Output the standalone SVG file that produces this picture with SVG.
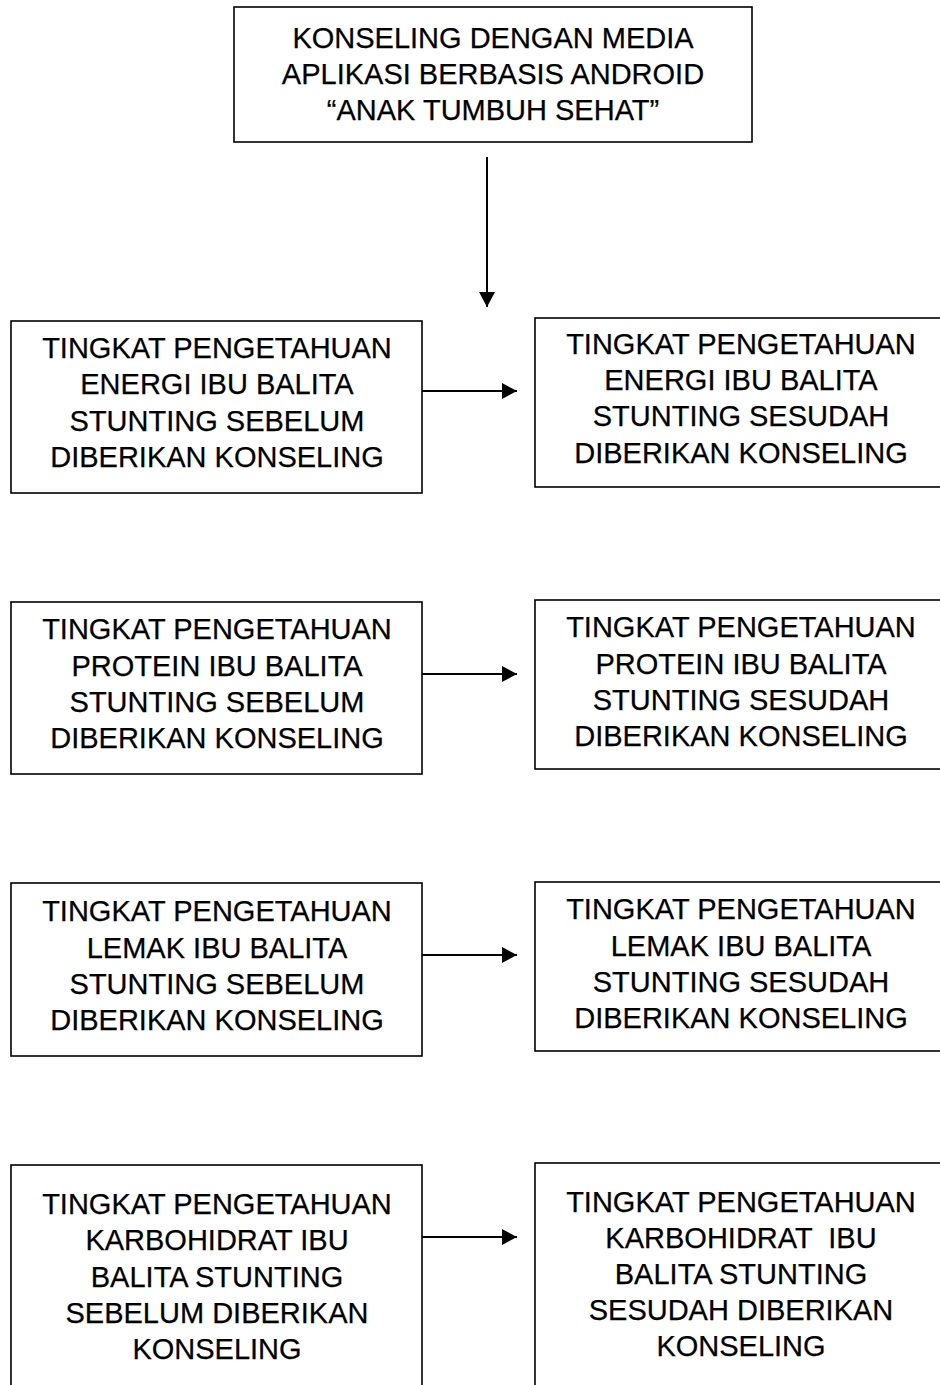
<svg xmlns="http://www.w3.org/2000/svg" width="940" height="1385" viewBox="0 0 940 1385">
<style>
.box{fill:#fff;stroke:#000;stroke-width:1.6}
.t{font-family:"Liberation Sans",Arial,sans-serif;font-size:29px;fill:#000;text-anchor:middle;stroke:#000;stroke-width:0.25}
.c{stroke:#000;stroke-width:2;fill:none}
</style>
<defs>
<marker id="ah" markerUnits="userSpaceOnUse" markerWidth="16" markerHeight="16" refX="15" refY="8" orient="auto">
<path d="M0,0 L15,8 L0,16 z" fill="#000"/>
</marker>
</defs>
<rect width="940" height="1385" fill="#fff"/>
<g id="top">
<rect class="box" x="234" y="7" width="518" height="135"/>
<text class="t"><tspan x="493" y="48">KONSELING DENGAN MEDIA</tspan><tspan x="493" y="84">APLIKASI BERBASIS ANDROID</tspan><tspan x="493" y="119.5">“ANAK TUMBUH SEHAT”</tspan></text>
</g>
<g id="energi-sebelum">
<rect class="box" x="11" y="321" width="411" height="172"/>
<text class="t"><tspan x="217" y="357.5">TINGKAT PENGETAHUAN</tspan><tspan x="217" y="394">ENERGI IBU BALITA</tspan><tspan x="217" y="430.5">STUNTING SEBELUM</tspan><tspan x="217" y="466.5">DIBERIKAN KONSELING</tspan></text>
</g>
<g id="energi-sesudah">
<rect class="box" x="535" y="318" width="412" height="169"/>
<text class="t"><tspan x="741" y="353.5">TINGKAT PENGETAHUAN</tspan><tspan x="741" y="390">ENERGI IBU BALITA</tspan><tspan x="741" y="426">STUNTING SESUDAH</tspan><tspan x="741" y="462.5">DIBERIKAN KONSELING</tspan></text>
</g>
<g id="protein-sebelum">
<rect class="box" x="11" y="602" width="411" height="172"/>
<text class="t"><tspan x="217" y="639">TINGKAT PENGETAHUAN</tspan><tspan x="217" y="675.5">PROTEIN IBU BALITA</tspan><tspan x="217" y="712">STUNTING SEBELUM</tspan><tspan x="217" y="748">DIBERIKAN KONSELING</tspan></text>
</g>
<g id="protein-sesudah">
<rect class="box" x="535" y="600" width="412" height="169"/>
<text class="t"><tspan x="741" y="637">TINGKAT PENGETAHUAN</tspan><tspan x="741" y="673.5">PROTEIN IBU BALITA</tspan><tspan x="741" y="709.5">STUNTING SESUDAH</tspan><tspan x="741" y="746">DIBERIKAN KONSELING</tspan></text>
</g>
<g id="lemak-sebelum">
<rect class="box" x="11" y="883" width="411" height="173"/>
<text class="t"><tspan x="217" y="921">TINGKAT PENGETAHUAN</tspan><tspan x="217" y="957.5">LEMAK IBU BALITA</tspan><tspan x="217" y="994">STUNTING SEBELUM</tspan><tspan x="217" y="1030">DIBERIKAN KONSELING</tspan></text>
</g>
<g id="lemak-sesudah">
<rect class="box" x="535" y="882" width="412" height="169"/>
<text class="t"><tspan x="741" y="919">TINGKAT PENGETAHUAN</tspan><tspan x="741" y="955.5">LEMAK IBU BALITA</tspan><tspan x="741" y="991.5">STUNTING SESUDAH</tspan><tspan x="741" y="1028">DIBERIKAN KONSELING</tspan></text>
</g>
<g id="karbohidrat-sebelum">
<rect class="box" x="11" y="1165" width="411" height="300"/>
<text class="t"><tspan x="217" y="1213.5">TINGKAT PENGETAHUAN</tspan><tspan x="217" y="1250">KARBOHIDRAT IBU</tspan><tspan x="217" y="1286.5">BALITA STUNTING</tspan><tspan x="217" y="1323">SEBELUM DIBERIKAN</tspan><tspan x="217" y="1359">KONSELING</tspan></text>
</g>
<g id="karbohidrat-sesudah">
<rect class="box" x="535" y="1163" width="412" height="300"/>
<text class="t" xml:space="preserve"><tspan x="741" y="1211.5">TINGKAT PENGETAHUAN</tspan><tspan x="741" y="1247.5">KARBOHIDRAT  IBU</tspan><tspan x="741" y="1284">BALITA STUNTING</tspan><tspan x="741" y="1320">SESUDAH DIBERIKAN</tspan><tspan x="741" y="1356">KONSELING</tspan></text>
</g>
<g id="connectors">
<line class="c" x1="487" y1="157" x2="487" y2="307" marker-end="url(#ah)"/>
<line class="c" x1="422" y1="391" x2="517" y2="391" marker-end="url(#ah)"/>
<line class="c" x1="422" y1="674" x2="517" y2="674" marker-end="url(#ah)"/>
<line class="c" x1="422" y1="955" x2="517" y2="955" marker-end="url(#ah)"/>
<line class="c" x1="422" y1="1237" x2="517" y2="1237" marker-end="url(#ah)"/>
</g>
</svg>
